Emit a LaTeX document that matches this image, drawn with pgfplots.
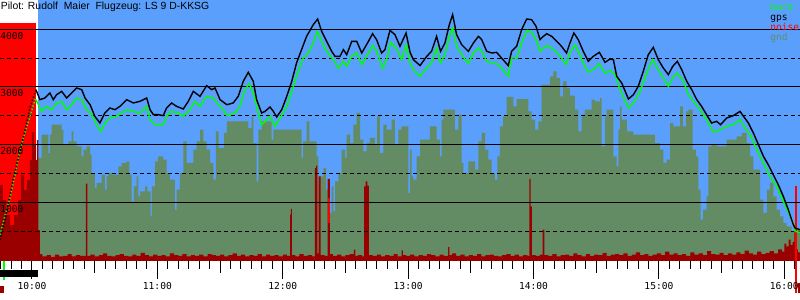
\documentclass[border=0pt]{standalone}
\usepackage{fontspec}
\setmainfont{Liberation Sans}
\newfontfamily\monof{DejaVu Sans Mono}
\usepackage{pgfplots}
\pgfplotsset{compat=1.18}
\definecolor{bgblue}{RGB}{89,159,251}
\definecolor{gndc}{RGB}{100,140,100}
\definecolor{noisec}{RGB}{155,0,0}
\definecolor{barog}{RGB}{0,255,0}
\newcommand{\mf}{\monof\fontsize{4.8}{5}\selectfont}
\begin{document}
\begin{tikzpicture}
\begin{axis}[
 scale only axis, width=400pt, height=130.5pt,
 xmin=-15.3, xmax=367.5, ymin=0, ymax=4500,
 clip=false,
 axis line style={draw=none},
 ytick=\empty,
 tick pos=left, tick align=outside,
 xtick={0,60,...,360}, xticklabels={},
 major tick length=9pt,
 minor xtick={-15,-10,...,365},
 minor tick length=4pt,
 extra x ticks={30,90,150,210,270,330},
 extra x tick labels={},
 extra x tick style={major tick length=6pt},
 every tick/.style={black, line width=0.5pt},
]
% background
\addplot[draw=none, fill=bgblue] coordinates {(3.0,4500) (367.5,4500)} \closedcycle;
\addplot[draw=none, fill=red] coordinates {(-15.3,4103) (1.8,4103)} \closedcycle;
% ground
\addplot[const plot mark left, draw=none, fill=gndc] coordinates {
(3.0,1776) (4.6,2178) (7.8,1862) (8.6,2178) (9.4,2350) (14.2,2264) (15.0,2006) (17.4,2063) (19.0,2236) (19.8,2063) (21.4,1977) (23.8,1805) (24.6,1919) (26.2,1977) (27.8,1833) (28.6,1517) (30.1,1259) (30.9,1345) (33.3,1488) (34.9,1230) (35.7,1460) (36.5,1517) (38.1,1488) (41.3,1632) (42.9,1690) (45.3,1718) (46.6,1488) (47.7,1029) (48.8,1287) (50.1,1460) (50.9,1115) (51.7,1201) (54.1,1287) (55.2,1201) (56.8,770) (57.4,1287) (58.9,1718) (60.4,1805) (62.8,1747) (64.4,1517) (66.0,1402) (68.4,885) (69.2,1230) (70.8,1517) (72.4,2063) (74.0,1690) (77.2,1919) (78.8,2063) (80.4,2264) (82.0,2063) (83.6,1919) (85.2,1690) (86.8,1402) (88.0,2236) (89.3,1948) (91.9,2207) (93.2,2408) (103.5,2293) (105.1,2494) (105.9,2034) (107.5,1374) (108.3,2264) (109.9,2408) (114.7,2092) (115.5,2264) (129.0,1776) (129.8,2063) (131.4,2408) (132.7,2063) (136.2,1805) (137.0,1316) (137.8,1460) (139.4,1603) (140.7,1230) (141.8,828) (143.4,1287) (144.2,856) (145.0,1374) (146.6,1517) (148.2,1919) (149.8,1776) (150.6,2178) (152.2,2034) (153.8,2350) (155.4,2552) (157.0,2092) (158.6,1891) (160.1,2034) (161.7,2121) (164.1,2006) (165.2,2494) (166.5,1862) (168.1,2350) (169.7,2264) (172.1,2437) (173.7,2006) (175.3,2264) (176.9,2322) (180.1,1172) (180.9,1919) (181.7,1460) (182.5,1402) (184.1,1805) (185.7,2092) (190.4,2322) (193.6,2092) (195.2,1805) (196.0,2437) (196.8,2609) (202.4,2264) (204.0,2523) (205.6,1690) (206.4,1517) (208.8,1718) (212.0,1575) (213.6,2063) (215.2,2207) (216.8,1919) (218.4,1747) (220.0,1517) (221.5,1402) (222.7,1805) (223.9,2322) (225.5,2494) (227.1,2828) (230.3,2667) (231.9,2793) (237.5,2580) (239.1,2437) (240.7,2264) (242.3,2408) (243.9,3040) (247.9,3184) (249.5,3270) (251.1,3155) (252.7,2839) (254.2,3098) (255.8,2983) (257.4,2850) (259.8,2609) (261.4,2236) (263.0,2523) (264.6,2609) (267.8,2782) (269.4,2753) (271.8,2810) (272.6,1977) (274.2,2494) (275.0,2609) (278.2,1805) (279.8,1632) (280.6,2264) (281.4,2667) (282.2,2437) (284.6,2236) (287.8,2178) (298.1,2034) (300.5,1919) (302.1,1690) (303.7,1747) (305.3,2379) (306.9,2322) (310.1,2667) (311.4,2322) (313.0,2580) (314.1,2609) (316.1,1919) (317.7,1805) (318.9,1230) (320.0,713) (321.2,885) (322.8,1115) (323.6,1977) (325.2,2006) (327.6,1977) (332.4,2092) (337.2,2149) (339.6,2207) (342.0,2034) (343.6,1805) (345.2,1575) (348.4,1057) (350.0,828) (351.6,1230) (353.1,1345) (354.7,1115) (356.3,885) (357.9,770) (359.5,655) (361.1,598) (363.5,511) (365.1,540) (367.5,540)
} \closedcycle;
% noise
\addplot[const plot mark left, draw=none, fill=noisec] coordinates {
(-15.3,1310) (-13.9,1052) (-12.4,793) (-10.5,620) (-8.6,793) (-6.7,1052) (-5.3,1483) (-3.8,1224) (-2.4,1396) (-1.0,1741) (0.0,2224) (1.0,2000) (1.9,1741) (2.4,2086) (3.1,534) (3.8,120)
(5,80) (7,100) (9,70) (11,110) (13,80) (15,90) (17,120) (19,80) (21,100) (23,90) (25.8,1333) (26.5,90) (28,110) (30,80) (32,100) (34,130) (36,90) (38,80) (40,100) (42,120) (44,90) (46,80) (48,110) (50,90) (52,140) (54,100) (56,80) (58,110) (60,90) (62,100) (64,80) (66,130) (68,100) (70,90) (72,120) (74,80) (76,100) (78,90) (80,110) (82,80) (84,120) (86,100) (88,90) (90,110) (92,80) (94,100) (96,130) (98,90) (100,110) (102,80) (104,100) (106,90) (108,120) (110,80) (112,110) (114,90) (116,100) (118,80) (120,110) (122,90)
(123.5,800) (123.9,897) (124.4,100) (126,80) (128,120) (130,90) (132,100) (134,80) (135.4,1600) (136.0,1644) (136.6,130) (137.2,1460) (138.1,100) (140,90) (141.5,1414) (142.6,120) (144,90) (146,110) (148,80) (150,100) (152,120) (154,195) (154.7,90) (156,100) (158,80) (158.9,1287) (159.7,1374) (160.5,1299) (161.2,100) (163,90)
(165,110) (167,80) (169,100) (171,90) (173,120) (175,80) (176.9,185) (177.5,100) (179,90) (181,110) (183,80) (185,100) (187,90) (189,120) (191,100) (193,80) (195,110) (197,90) (199.1,240) (199.7,100) (201,130) (203,90) (205,110) (207,80) (209,100) (211,90) (213,120) (215,80) (217,100) (219,110) (221,90) (223,80) (225,100) (227,120) (229,90) (231,110) (233,80) (235,100) (237,90)
(238.0,1414) (238.6,940) (239.2,100) (241,90) (243,110) (244.4,540) (245.2,100) (247,90) (249,120) (251,80) (253,100) (255,110) (257,90) (259,130) (261,100) (263,80) (265,120) (267,90) (269,110) (271,100) (273,140) (275,90) (277,110) (279,120) (281,100) (283,130) (285,90) (287,110) (289,150) (291,100) (293,120) (295,90) (297,110) (299,130) (301,100) (303,160) (305,110) (307,130) (309,100) (311,120) (313,90) (315,150) (317,110) (319,130) (321,100) (323,170) (325,120) (327,110) (329,140) (331,100) (333,130) (335,110) (337,150) (339,120) (341,180) (343,130) (345,110) (347,160) (349,120) (351,140) (353,170) (355,130) (357,200) (359,160) (360,300) (361,250) (362,370) (363,280) (364,330) (364.8,600) (365.4,200) (366.5,150) (367.5,150)
} \closedcycle;
\addplot[draw=none, fill=red] coordinates {(141.7,655) (141.7,1086) (142.4,1086) (142.4,655)} -- cycle;
\addplot[draw=none, fill=red] coordinates {(365.1,-552) (365.1,1300) (366.0,1300) (366.0,-552)} -- cycle;
\addplot[draw=none, fill=noisec] coordinates {(366.5,-379) (366.5,-552) (367.5,-552) (367.5,-379)} -- cycle;
% markers below the axis
\addplot[draw=none, fill=barog] coordinates {(-13.9,0) (-13.9,-328) (-12.9,-328) (-12.9,0)} -- cycle;
\addplot[draw=none, fill=black] coordinates {(-15.3,-155) (-15.3,-276) (2.9,-276) (2.9,-155)} -- cycle;
\addplot[draw=none, fill=noisec] coordinates {(-15.3,-431) (-15.3,-552) (-13.4,-552) (-13.4,-431)} -- cycle;
% grid
\addplot[black, line width=0.5pt] coordinates {(-15.3,1000) (367.5,1000)};
\addplot[black, line width=0.5pt] coordinates {(-15.3,2000) (367.5,2000)};
\addplot[black, line width=0.5pt] coordinates {(-15.3,3000) (367.5,3000)};
\addplot[black, line width=0.5pt] coordinates {(-15.3,4000) (367.5,4000)};
\addplot[black, line width=0.5pt, dash pattern=on 2pt off 1.5pt] coordinates {(-15.3,500) (367.5,500)};
\addplot[black, line width=0.5pt, dash pattern=on 2pt off 1.5pt] coordinates {(-15.3,1500) (367.5,1500)};
\addplot[black, line width=0.5pt, dash pattern=on 2pt off 1.5pt] coordinates {(-15.3,2500) (367.5,2500)};
\addplot[black, line width=0.5pt, dash pattern=on 2pt off 1.5pt] coordinates {(-15.3,3500) (367.5,3500)};
% tow (dotted)
\addplot[barog, line width=0.7pt, densely dotted] coordinates {(-15.3,448) (-12.9,793) (-10.5,1086) (-8.1,1483) (-5.7,1914) (-3.3,2224) (-1.0,2483) (1.4,2776) (1.9,2782)};
\addplot[black, line width=0.7pt, densely dotted] coordinates {(-15.3,362) (-12.4,793) (-9.1,1396) (-6.2,1827) (-3.3,2258) (-1.0,2638) (1.4,2896) (1.9,2954)};
% baro
\addplot[barog, line width=0.7pt] coordinates {
(1.9,2782) (4.6,2580) (7.0,2667) (9.4,2609) (11.8,2724) (14.2,2753) (16.6,2609) (19.0,2695) (21.4,2810) (23.8,2782) (26.2,2609) (28.6,2523) (30.9,2350) (32.9,2236) (34.9,2379) (37.3,2465) (40.5,2494) (45.3,2609) (48.5,2580) (51.7,2552) (54.9,2667) (56.5,2437) (58.9,2350) (62.8,2350) (64.4,2494) (66.8,2580) (70.0,2552) (72.4,2494) (75.6,2609) (78.0,2753) (80.4,2667) (83.6,2839) (86.8,2810) (89.2,2695) (91.6,2609) (93.2,2506) (97.1,2552) (99.5,2667) (101.9,2954) (104.0,3057) (105.9,2896) (108.3,2552) (109.9,2350) (112.3,2437) (113.9,2494) (116.3,2322) (118.7,2465) (121.9,2667) (124.3,2925) (127.4,3270) (129.8,3500) (132.2,3586) (134.6,3758) (136.5,3960) (138.6,3787) (141.0,3615) (144.2,3471) (146.6,3327) (149.0,3442) (150.6,3356) (153.0,3529) (155.4,3586) (157.8,3385) (160.1,3529) (163.0,3713) (164.9,3615) (167.8,3327) (169.7,3471) (171.6,3770) (174.2,3672) (176.9,3471) (179.0,3730) (180.9,3420) (182.5,3299) (185.7,3184) (188.9,3327) (191.2,3414) (193.6,3672) (195.5,3414) (197.6,3557) (199.7,3873) (201.3,4017) (203.2,3701) (205.6,3557) (208.8,3402) (211.2,3586) (213.6,3672) (215.2,3615) (217.6,3442) (220.0,3414) (222.3,3402) (224.7,3327) (227.9,3184) (229.5,3500) (231.9,3500) (234.3,3758) (237.0,3977) (239.1,3942) (241.2,3816) (243.1,3615) (244.7,3672) (246.3,3713) (248.7,3672) (251.1,3598) (253.4,3500) (255.5,3385) (257.4,3586) (259.8,3730) (261.4,3615) (263.8,3414) (266.2,3253) (268.6,3299) (271.5,3400) (274.2,3235) (276.6,3290) (279.0,3213) (281.4,2954) (285.4,2638) (287.8,2724) (291.0,2925) (294.1,3241) (297.0,3471) (299.7,3299) (302.1,3155) (304.5,3011) (306.6,3155) (308.8,3241) (311.7,3098) (314.1,2868) (316.5,2753) (319.6,2609) (322.8,2437) (326.0,2218) (329.2,2264) (332.4,2322) (335.6,2350) (338.8,2437) (341.2,2293) (343.6,2178) (346.8,1919) (350.0,1690) (353.1,1460) (356.3,1287) (359.5,1029) (362.7,770) (364.3,655) (365.1,511) (367.5,494)
};
% gps
\addplot[black, line width=0.7pt] coordinates {
(1.9,2954) (3.8,2782) (6.2,2810) (8.6,2896) (10.2,2782) (11.8,2868) (14.2,2925) (16.6,2810) (19.0,2896) (21.4,2983) (23.8,2954) (25.4,2810) (27.8,2695) (30.1,2494) (32.5,2379) (34.9,2552) (37.3,2638) (39.7,2609) (42.1,2667) (45.3,2782) (48.5,2724) (51.7,2753) (54.9,2810) (56.5,2609) (58.1,2523) (60.5,2523) (62.8,2506) (64.4,2638) (66.8,2724) (69.2,2667) (72.4,2621) (74.8,2753) (77.2,2925) (80.4,2839) (83.6,3023) (86.0,2954) (87.6,2983) (90.0,2782) (93.2,2695) (96.3,2724) (98.7,2839) (101.1,3098) (103.5,3253) (105.9,3098) (107.5,2782) (109.9,2552) (111.5,2580) (113.9,2655) (115.5,2580) (117.1,2483) (119.5,2609) (121.9,2839) (124.3,3098) (126.6,3414) (129.0,3644) (131.4,3873) (134.6,4075) (136.7,4172) (138.6,3960) (141.0,3787) (143.4,3615) (145.0,3529) (147.4,3529) (149.0,3644) (150.6,3557) (153.0,3787) (155.4,3787) (157.8,3586) (160.1,3730) (163.0,3919) (164.9,3816) (167.3,3586) (168.9,3644) (171.3,3977) (173.7,3902) (176.1,3701) (179.0,3931) (180.9,3600) (182.5,3471) (185.7,3370) (188.9,3529) (191.2,3615) (193.6,3873) (195.5,3615) (197.6,3758) (199.7,4075) (201.3,4247) (203.2,3902) (205.6,3730) (208.8,3615) (211.2,3758) (213.6,3873) (215.2,3816) (217.6,3615) (220.0,3586) (222.3,3598) (224.7,3500) (227.9,3368) (229.5,3615) (231.9,3701) (234.3,3988) (236.7,4172) (239.1,4161) (241.2,4046) (243.1,3816) (244.7,3873) (246.3,3919) (248.7,3873) (251.1,3787) (253.4,3701) (255.8,3586) (257.4,3758) (259.3,3931) (261.4,3816) (263.8,3615) (266.2,3442) (268.6,3529) (271.5,3598) (274.2,3425) (276.6,3483) (278.2,3471) (279.8,3184) (282.2,3069) (285.4,2793) (287.8,2868) (290.1,3011) (292.5,3270) (294.9,3557) (297.3,3684) (299.7,3471) (302.1,3327) (304.5,3213) (306.6,3356) (308.8,3442) (310.9,3299) (313.3,3098) (315.7,2954) (318.1,2782) (320.4,2667) (322.8,2523) (325.2,2379) (327.6,2408) (329.5,2350) (332.4,2465) (335.6,2506) (338.8,2580) (340.7,2483) (342.8,2379) (345.2,2207) (347.6,2006) (350.0,1805) (352.3,1661) (354.7,1488) (357.1,1316) (359.5,1115) (361.9,885) (364.3,626) (365.1,569) (367.5,540)
};
% texts
\node[anchor=base west, inner sep=0, font=\fontsize{5.2}{6}\selectfont, xshift=0.3pt, yshift=-4.75pt] at (rel axis cs:0,1) {Pilot: Rudolf\ \ Maier\ \ Flugzeug: LS 9 D-KKSG};
\node[anchor=base west, inner sep=0, font=\mf, yshift=-5pt] at (axis cs:-15.3,4000) {4000};
\node[anchor=base west, inner sep=0, font=\mf, yshift=-5pt] at (axis cs:-15.3,3000) {3000};
\node[anchor=base west, inner sep=0, font=\mf, yshift=-5pt] at (axis cs:-15.3,2000) {2000};
\node[anchor=base west, inner sep=0, font=\mf, yshift=-5pt] at (axis cs:-15.3,1000) {1000};
\node[anchor=base, inner sep=0, font=\mf, yshift=-14.5pt] at (axis cs:0,0) {10:00};
\node[anchor=base, inner sep=0, font=\mf, yshift=-14.5pt] at (axis cs:60,0) {11:00};
\node[anchor=base, inner sep=0, font=\mf, yshift=-14.5pt] at (axis cs:120,0) {12:00};
\node[anchor=base, inner sep=0, font=\mf, yshift=-14.5pt] at (axis cs:180,0) {13:00};
\node[anchor=base, inner sep=0, font=\mf, yshift=-14.5pt] at (axis cs:240,0) {14:00};
\node[anchor=base, inner sep=0, font=\mf, yshift=-14.5pt] at (axis cs:300,0) {15:00};
\node[anchor=base, inner sep=0, font=\mf, yshift=-14.5pt] at (axis cs:360,0) {16:00};
\node[anchor=base west, inner sep=0, font=\mf, text=barog] at (axis cs:353.1,4327) {baro};
\node[anchor=base west, inner sep=0, font=\mf, text=black] at (axis cs:353.1,4155) {gps};
\node[anchor=base west, inner sep=0, font=\mf, text=red] at (axis cs:353.1,3982) {noise};
\node[anchor=base west, inner sep=0, font=\mf, text=gndc] at (axis cs:353.1,3810) {gnd};
\coordinate (SW) at (rel axis cs:0,0);
\coordinate (NE) at (rel axis cs:1,1);
\end{axis}
\pgfresetboundingbox
\path (SW) ++(0,-19.5pt) rectangle (NE);
\end{tikzpicture}
\end{document}
